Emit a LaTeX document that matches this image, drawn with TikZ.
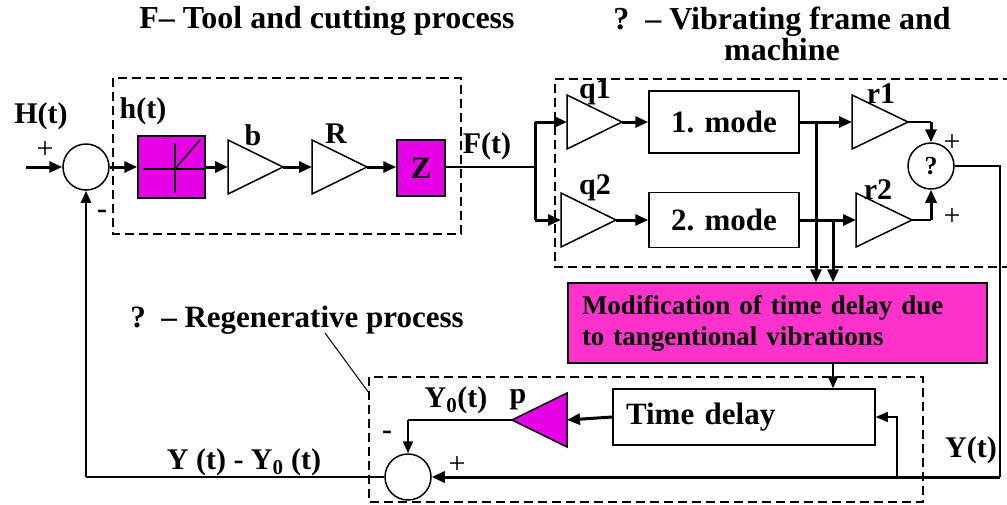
\documentclass[tikz,border=0pt]{standalone}
\usepackage{fontspec}
\setmainfont{Liberation Serif}
\usetikzlibrary{arrows.meta,positioning}

\definecolor{magA}{RGB}{230,0,230}
\definecolor{magB}{RGB}{255,51,204}

\tikzset{
	blk/.style={draw, line width=1.5pt, rectangle, inner sep=0pt, font=\bfseries\fontsize{31}{33}\selectfont},
	sumc/.style={draw, line width=1.5pt, circle, minimum size=46pt, inner sep=0pt},
	lbl/.style={inner sep=0pt, font=\bfseries\fontsize{30}{32}\selectfont},
	sgn/.style={inner sep=0pt, font=\fontsize{30}{32}\selectfont},
	ttl/.style={inner sep=0pt, font=\bfseries\fontsize{32}{28}\selectfont},
	wire/.style={line width=1.5pt},
	sig/.style={line width=3pt, -{Triangle[length=13pt,width=11pt]}},
	sigm/.style={line width=2pt, -{Triangle[length=12pt,width=10pt]}},
	grp/.style={line width=2.5pt, dash pattern=on 9pt off 5pt}
}

\begin{document}
\begin{tikzpicture}[x=1pt, y=-1pt]
	\useasboundingbox (0,0) rectangle (1007,504);
	
	% Dashed group frames
	\draw[grp] (113,78) rectangle (461,234);
	\draw[grp] (1012,79) -- (555,79) -- (555,267) -- (1012,267);
	\draw[grp] (369,377) rectangle (923,502);
	
	% Gain triangles: base x, axis y, signed length (input/output coordinates)
	\foreach \nm/\bx/\by/\len/\col in {b/228/167/55/white, R/312/167/55/white,
		q1/567/122/55/white, q2/561/220/55/white, r1/852/122/56/white, r2/856/220/56/white,
		p/567/420/-55/magA} {
		\filldraw[wire, fill=\col] (\bx,\by-27) -- (\bx+\len,\by) -- (\bx,\by+27) -- cycle;
		\coordinate (\nm-in) at (\bx,\by);
		\coordinate (\nm-out) at (\bx+\len,\by);
	}
	
	% Tool and cutting process
	\node[sumc] (sH) at (86,167) {};
	\node[blk, fill=magA, minimum width=67pt, minimum height=62pt] (nl) at (171.5,167) {};
	\node[blk, fill=magA, minimum width=48pt, minimum height=56pt] (Z) at (421,168) {Z};
	
	% Nonlinear characteristic inside the box
	\draw[wire] (143,169) -- (205,169);
	\draw[wire] (175,143) -- (175,193);
	\draw[wire] (175,169) -- (200,140);
	
	% Vibrating frame and machine
	\node[blk, minimum width=150pt, minimum height=62pt] (m1) at (724,122) {1. mode};
	\node[blk, minimum width=150pt, minimum height=55pt] (m2) at (724,220) {2. mode};
	\node[sumc, font=\bfseries\fontsize{26}{28}\selectfont] (sQ) at (931,166) {?};
	
	% Delay modification and regenerative process
	\node[blk, fill=magB, font=\bfseries\fontsize{27}{31}\selectfont, align=left, text width=391pt,
		inner xsep=14pt, minimum height=80pt] (mod) at (777.5,323)
		{Modification of time delay due\\to tangentional vibrations};
	\node[blk, align=left, text width=236pt, inner xsep=13pt, minimum height=56pt] (td) at (744,417) {Time delay};
	\node[sumc] (sY) at (408,477) {};
	
	% Branch points
	\coordinate (in) at (26,167);
	\coordinate (br) at (535,167);
	\coordinate (brT) at (535,122);
	\coordinate (brB) at (535,220);
	\coordinate (t1) at (816,122);
	\coordinate (t2) at (833,220);
	\coordinate (yR) at (1000,477);
	\coordinate (yT) at (897,477);
	\coordinate (fb) at (sY.west -| sH);
	
	% Forward path
	\draw[sig] (in) -- (sH.west);
	\draw[sig] (sH.east) -- (nl.west);
	\draw[sig] (nl.east) -- (b-in);
	\draw[sig] (b-out) -- (R-in);
	\draw[sig] (R-out) -- (R-out -| Z.west);
	\draw[wire] (Z.east |- br) -- (br);
	\draw[line width=3pt] (brT) -- (brB);
	\draw[sig] (brT) -- (q1-in);
	\draw[sig] (brB) -- (q2-in);
	\draw[sig] (q1-out) -- (m1.west);
	\draw[sig] (q2-out) -- (m2.west);
	\draw[sig] (m1.east) -- (r1-in);
	\draw[sig] (m2.east) -- (r2-in);
	\draw[wire] (r1-out) -- (r1-out -| sQ);
	\draw[sig] (r1-out -| sQ) -- (sQ.north);
	\draw[wire] (r2-out) -- (r2-out -| sQ);
	\draw[sig] (r2-out -| sQ) -- (sQ.south);
	
	% Taps to the modification block
	\draw[sig] (t1) -- (t1 |- mod.north);
	\draw[sig] (t2) -- (t2 |- mod.north);
	\draw[sigm] (mod.south -| t2) -- (td.north -| t2);
	
	% Feedback path
	\draw[wire] (sQ.east) -| (yR);
	\draw[sig] (yR) -- (sY.east);
	\draw[wire, -{Triangle[length=12pt,width=10pt]}] (yT) |- (td.east);
	\draw[sig] (td.west) -- (p-in);
	\draw[wire] (p-out) -- (p-out -| sY);
	\draw[sigm] (p-out -| sY) -- (sY.north);
	\draw[wire] (sY.west) -- (fb);
	\draw[sigm] (fb) -- (sH.south);
	
	% Labels
	\foreach \nm/\pos/\txt in {lH/{(41,116)}/H(t), lh/{(143,111)}/h(t), lb/{(253,135)}/b, lR/{(336,134)}/R,
		lF/{(487,146)}/F(t), lq1/{(595,92)}/q1, lq2/{(595,188)}/q2, lr1/{(881,94)}/r1, lr2/{(878,190)}/r2,
		lYt/{(971,450)}/Y(t), lp/{(518,400)}/p, lY0/{(456,400)}/{Y\textsubscript{0}(t)},
		lYd/{(244,462)}/{Y (t) - Y\textsubscript{0} (t)}, lm1/{(102,214)}/-, lm2/{(387,435)}/-} {
		\node[lbl] (\nm) at \pos {\txt};
	}
	\foreach \nm/\pos in {pH/{(45,150)}, pQ1/{(952,143)}, pQ2/{(952,217)}, pY/{(457,465)}} {
		\node[sgn] (\nm) at \pos {+};
	}
	
	% Group titles
	\node[ttl] (tF) at (327,21) {F– Tool and cutting process};
	\node[ttl, align=center] (tV) at (782,34) {?\ \ – Vibrating frame and\\machine};
	\node[lbl, font=\bfseries\fontsize{31}{33}\selectfont] (tR) at (297,320) {?\ \ – Regenerative process};
	\coordinate (lead) at (325,333);
	\draw[line width=1pt] (lead) -- (369,393);
\end{tikzpicture}
\end{document}
